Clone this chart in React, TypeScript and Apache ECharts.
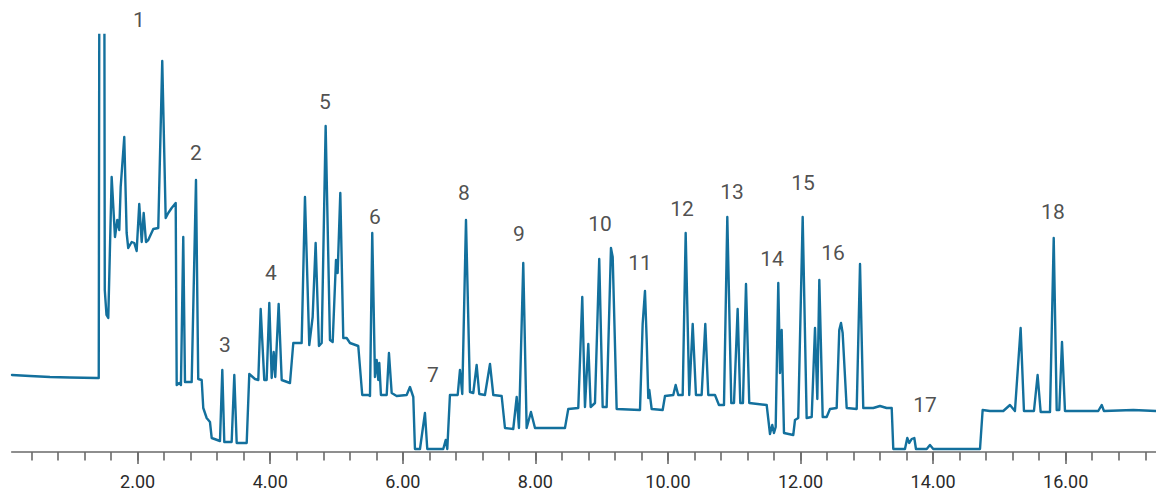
import React, { useEffect, useRef } from "react";
import * as echarts from "echarts";

// Retention time (min)
const retentionTime = [
  0.104, 0.376, 0.677, 0.979, 1.386, 1.413, 1.424, 1.496, 1.504, 1.53, 1.557, 1.608, 1.658, 1.693, 1.723, 1.744,
  1.798, 1.834, 1.858, 1.91, 1.949, 1.985, 2.024, 2.061, 2.091, 2.126, 2.16, 2.236, 2.311, 2.371, 2.423, 2.462,
  2.513, 2.574, 2.589, 2.628, 2.653, 2.688, 2.714, 2.815, 2.88, 2.914, 2.966, 2.99, 3.041, 3.091, 3.117, 3.242,
  3.277, 3.307, 3.418, 3.458, 3.494, 3.645, 3.684, 3.77, 3.82, 3.856, 3.91, 3.946, 3.986, 4.022, 4.052, 4.076,
  4.127, 4.173, 4.298, 4.348, 4.474, 4.524, 4.589, 4.64, 4.685, 4.735, 4.776, 4.836, 4.901, 4.942, 4.992, 5.017,
  5.057, 5.102, 5.153, 5.203, 5.328, 5.388, 5.479, 5.505, 5.539, 5.58, 5.606, 5.63, 5.645, 5.67, 5.757, 5.791,
  5.832, 5.907, 6.058, 6.108, 6.158, 6.183, 6.259, 6.334, 6.369, 6.61, 6.647, 6.671, 6.711, 6.828, 6.862, 6.897,
  6.953, 7.013, 7.063, 7.114, 7.153, 7.239, 7.315, 7.365, 7.491, 7.541, 7.666, 7.718, 7.752, 7.817, 7.868, 7.933,
  7.994, 8.446, 8.496, 8.647, 8.707, 8.748, 8.798, 8.834, 8.899, 8.963, 9.015, 9.075, 9.14, 9.166, 9.226, 9.578,
  9.618, 9.653, 9.679, 9.703, 9.718, 9.754, 9.92, 9.955, 10.08, 10.116, 10.155, 10.222, 10.267, 10.321, 10.373, 10.422,
  10.508, 10.563, 10.608, 10.709, 10.769, 10.845, 10.895, 10.955, 10.996, 11.051, 11.091, 11.131, 11.177, 11.226, 11.489, 11.539,
  11.573, 11.599, 11.625, 11.664, 11.69, 11.715, 11.75, 11.89, 11.916, 11.965, 12.032, 12.092, 12.168, 12.218, 12.253, 12.283,
  12.334, 12.394, 12.444, 12.545, 12.584, 12.61, 12.635, 12.696, 12.847, 12.897, 12.946, 13.097, 13.198, 13.299, 13.375, 13.399,
  13.575, 13.61, 13.64, 13.676, 13.716, 13.741, 13.903, 13.952, 14.002, 14.707, 14.747, 14.856, 15.058, 15.159, 15.234, 15.32,
  15.37, 15.521, 15.576, 15.622, 15.763, 15.819, 15.864, 15.903, 15.944, 15.989, 16.216, 16.491, 16.543, 16.577, 17.019, 17.362,
];

// Detector signal (arbitrary units)
const signal = [
  77, 76, 75, 74.5, 74, 74, 560, 560, 162, 137, 134, 275, 215, 232, 222, 265,
  315, 219, 204, 210, 209, 201, 248, 210, 239, 210, 212, 223, 224, 391, 234, 239,
  244, 249, 67, 69, 67, 215, 70, 70, 272, 73, 72, 44, 34, 30, 14, 11,
  82, 10, 10, 77, 9, 9, 78, 73, 72, 143, 72, 72, 149, 74, 100, 75,
  148, 72, 69, 109, 109, 255, 107, 135, 209, 106, 109, 326, 112, 110, 192, 179,
  259, 114, 114, 109, 106, 57, 57, 56, 219, 75, 92, 72, 89, 57, 57, 99,
  59, 56, 57, 65, 55, 3, 3, 39, 3, 3, 12, 3, 57, 57, 82, 58,
  232, 60, 59, 87, 58, 57, 88, 57, 56, 24, 23, 55, 24, 189, 24, 40,
  24, 24, 43, 44, 155, 45, 108, 45, 49, 193, 45, 45, 204, 195, 43, 42,
  128, 161, 112, 54, 62, 43, 42, 56, 57, 67, 57, 57, 219, 57, 128, 57,
  57, 128, 57, 57, 47, 47, 235, 49, 49, 143, 49, 49, 168, 49, 47, 18,
  27, 19, 25, 169, 79, 122, 19, 17, 32, 34, 235, 34, 35, 124, 53, 172,
  35, 35, 43, 44, 122, 129, 119, 44, 43, 188, 44, 44, 46, 44, 44, 3,
  3, 14, 9, 13, 14, 3, 3, 7, 3, 3, 42, 41, 41, 47, 41, 124,
  41, 41, 77, 40, 40, 214, 42, 42, 110, 41, 41, 41, 47, 41, 42, 41,
];

// Peak annotations
const peakNames = ["1", "2", "3", "4", "5", "6", "7", "8", "9", "10", "11", "12", "13", "14", "15", "16", "17", "18"];
const peakLabelTime = [2.02, 2.88, 3.317, 4.011, 4.826, 5.58, 6.455, 6.923, 7.751, 8.974, 9.578, 10.211, 10.965, 11.569, 12.036, 12.489, 13.877, 15.807];
const peakLabelSignal = [432, 299, 107, 179, 350, 235, 77, 259, 218, 228, 189, 243, 260, 193, 269, 199, 47, 240];

// Axis ticks
const majorTicks = [2, 4, 6, 8, 10, 12, 14, 16];
const minorTicks = [
  0.4, 0.8, 1.2, 1.6, 2.0, 2.4, 2.8, 3.2, 3.6, 4.0, 4.4, 4.8, 5.2, 5.6, 6.0, 6.4, 6.8, 7.2, 7.6, 8.0, 8.4,
  8.8, 9.2, 9.6, 10.0, 10.4, 10.8, 11.2, 11.6, 12.0, 12.4, 12.8, 13.2, 13.6, 14.0, 14.4, 14.8, 15.2, 15.6,
  16.0, 16.4, 16.8, 17.2,
];

const X_MIN = 0.1;
const X_MAX = 17.362;
const Y_MAX = 417;

export default function App() {
  const ref = useRef<HTMLDivElement>(null);

  useEffect(() => {
    if (!ref.current) return;
    const chart = echarts.init(ref.current, undefined, { renderer: "svg" });
    const traceData = retentionTime.map((t, i) => [t, signal[i]]);
    const labelData = peakNames.map((n, i) => ({ name: n, value: [peakLabelTime[i], peakLabelSignal[i]] }));
    const axisColor = "#6a6a6a";
    chart.setOption({
      animation: false,
      backgroundColor: "#ffffff",
      grid: { left: 11.7, right: 0, top: 35, bottom: 43 },
      xAxis: [
        {
          type: "value",
          min: X_MIN,
          max: X_MAX,
          position: "bottom",
          axisLine: { show: true, lineStyle: { color: axisColor, width: 1.6 } },
          axisTick: { show: true, customValues: majorTicks, length: 12, lineStyle: { color: axisColor, width: 1.6 } },
          axisLabel: {
            show: true,
            customValues: majorTicks,
            formatter: (v: number) => v.toFixed(2),
            color: "#2a2a2a",
            fontSize: 18,
            fontFamily: "Roboto",
            margin: 20,
          },
          splitLine: { show: false },
        },
        {
          type: "value",
          min: X_MIN,
          max: X_MAX,
          position: "bottom",
          axisLine: { show: false },
          axisTick: { show: true, customValues: minorTicks, length: 8.5, lineStyle: { color: axisColor, width: 1.6 } },
          axisLabel: { show: false },
          splitLine: { show: false },
        },
      ],
      yAxis: { type: "value", min: 0, max: Y_MAX, show: false, splitLine: { show: false } },
      series: [
        {
          type: "line",
          xAxisIndex: 0,
          data: traceData,
          showSymbol: false,
          symbol: "none",
          clip: true,
          lineStyle: { color: "#13709d", width: 2.4, join: "round", cap: "round" },
        },
        {
          type: "scatter",
          xAxisIndex: 0,
          data: labelData,
          symbolSize: 0,
          clip: false,
          silent: true,
          label: {
            show: true,
            position: "inside",
            formatter: "{b}",
            color: "#222222",
            fontSize: 21,
            fontFamily: "Roboto",
          },
        },
      ],
    });
    return () => chart.dispose();
  }, []);

  return <div ref={ref} style={{ position: "fixed", left: 0, top: 0, width: 1156, height: 495 }} />;
}
